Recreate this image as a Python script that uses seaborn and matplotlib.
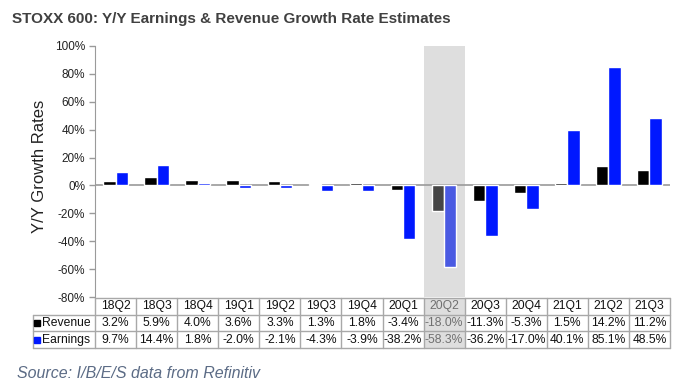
import matplotlib
matplotlib.use('Agg')
import matplotlib.pyplot as plt
import seaborn as sns
import pandas as pd

# data
quarters = ['18Q2', '18Q3', '18Q4', '19Q1', '19Q2', '19Q3', '19Q4',
            '20Q1', '20Q2', '20Q3', '20Q4', '21Q1', '21Q2', '21Q3']
revenue = [3.2, 5.9, 4.0, 3.6, 3.3, 1.3, 1.8, -3.4, -18.0, -11.3, -5.3, 1.5, 14.2, 11.2]
earnings = [9.7, 14.4, 1.8, -2.0, -2.1, -4.3, -3.9, -38.2, -58.3, -36.2, -17.0, 40.1, 85.1, 48.5]
series = ['Revenue', 'Earnings']
highlight = '20Q2'

colors = {'Revenue': '#000000', 'Earnings': '#0018FF'}
muted = {'Revenue': '#454545', 'Earnings': '#4A5AE2'}

df = pd.DataFrame({
    'quarter': quarters * 2,
    'series': ['Revenue'] * len(quarters) + ['Earnings'] * len(quarters),
    'value': revenue + earnings,
})

sns.set_style('white')
plt.rcParams['font.family'] = ['Liberation Sans', 'DejaVu Sans']

W, H = 695, 390
fig = plt.figure(figsize=(W / 100, H / 100), dpi=100)

def box(x0, y0, x1, y1):
    return [x0 / W, 1 - y1 / H, (x1 - x0) / W, (y1 - y0) / H]

ax = fig.add_axes(box(95, 46, 670, 297))
tab = fig.add_axes(box(95, 298, 670, 348))

hi = quarters.index(highlight)

sns.barplot(data=df, x='quarter', y='value', hue='series', order=quarters,
            hue_order=series, palette=colors, width=0.6, saturation=1,
            legend=False, ax=ax, zorder=2)

# grey out the highlighted quarter's bars
for cont, s in zip(ax.containers, series):
    cont[hi].set_facecolor(muted[s])

ax.axvspan(hi - 0.5, hi + 0.5, color='#DEDEDE', zorder=0, lw=0)
ax.axhline(0, color='#9A9A9A', lw=1.2, zorder=1)

ax.set_xlim(-0.5, len(quarters) - 0.5)
ax.set_ylim(-80, 100)
ax.set_yticks(range(-80, 101, 20))
ax.set_yticklabels([f'{t}%' for t in range(-80, 101, 20)], fontsize=8.5, color='#222222')
ax.set_xticks([])
ax.set_xlabel('')
ax.set_ylabel('')
for side in ['top', 'right', 'bottom']:
    ax.spines[side].set_visible(False)
ax.spines['left'].set_color('#9A9A9A')
ax.tick_params(axis='y', direction='out', length=4, width=1, color='#9A9A9A', left=True, pad=3)

# data table under the bars
n = len(quarters)
tab.set_xlim(-0.5, n - 0.5)
tab.set_ylim(3, 0)
tab.axis('off')
tab.axvspan(hi - 0.5, hi + 0.5, ymin=0, ymax=1, color='#DEDEDE', zorder=0, lw=0)

grid = '#A8A8A8'
label_left = -0.5 - 62 / 41.07
tab.plot([-0.5, n - 0.5], [0, 0], color=grid, lw=1, clip_on=False)
for r in [1, 2, 3]:
    tab.plot([label_left, n - 0.5], [r, r], color=grid, lw=1, clip_on=False)
for i in range(n + 1):
    tab.plot([i - 0.5, i - 0.5], [0, 3], color=grid, lw=1, clip_on=False)
tab.plot([label_left, label_left], [1, 3], color=grid, lw=1, clip_on=False)

for i, q in enumerate(quarters):
    c = '#707070' if i == hi else '#111111'
    tab.text(i, 0.5, q, ha='center', va='center', fontsize=8.7, color=c)
    tab.text(i, 1.5, f'{revenue[i]:.1f}%', ha='center', va='center', fontsize=8.7, color=c)
    tab.text(i, 2.5, f'{earnings[i]:.1f}%', ha='center', va='center', fontsize=8.7, color=c)

for r, s in zip([1.5, 2.5], series):
    tab.plot([label_left + 4.5 / 41.07], [r], marker='s', ms=5, color=colors[s],
             clip_on=False, ls='none')
    tab.text(label_left + 9 / 41.07, r, s, ha='left', va='center', fontsize=8.7, color='#111111')

fig.text(40 / W, 1 - 166 / H, 'Y/Y Growth Rates', rotation=90, ha='center', va='center',
         fontsize=12, color='#222222')
fig.text(12 / W, 1 - 19 / H, 'STOXX 600: Y/Y Earnings & Revenue Growth Rate Estimates',
         ha='left', va='center', fontsize=11, fontweight='bold', color='#404040')
fig.text(17 / W, 1 - 373 / H, 'Source: I/B/E/S data from Refinitiv', ha='left', va='center',
         fontsize=11.5, style='italic', color='#5B6B85')

fig.savefig('out.png', dpi=100)
